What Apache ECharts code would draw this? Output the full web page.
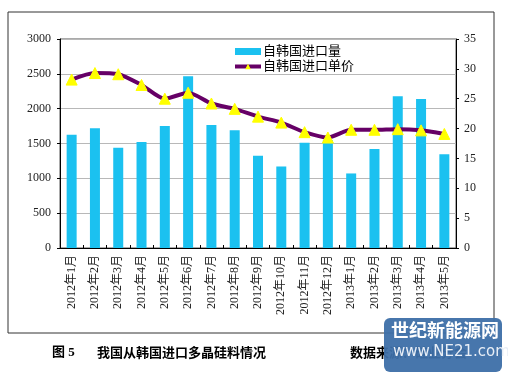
<!DOCTYPE html>
<html><head><meta charset="utf-8">
<script src="https://cdn.jsdelivr.net/npm/echarts@6/dist/echarts.min.js"></script>
<style>html,body{margin:0;padding:0;background:#fff}#c{width:508px;height:372px}</style>
</head><body><div id="c"></div>
<script>
const categories = ['2012年1月','2012年2月','2012年3月','2012年4月','2012年5月','2012年6月','2012年7月','2012年8月','2012年9月','2012年10月','2012年11月','2012年12月','2013年1月','2013年2月','2013年3月','2013年4月','2013年5月'];
const importVolume = [1625, 1720, 1440, 1520, 1750, 2465, 1765, 1690, 1325, 1170, 1510, 1550, 1070, 1420, 2180, 2140, 1345];
const importPrice = [28.2, 29.3, 29.1, 27.3, 25.0, 26.0, 24.2, 23.3, 22.0, 21.0, 19.4, 18.5, 19.8, 19.8, 19.9, 19.7, 19.1];
const leftTicks = [0, 3000, 500];
const rightTicks = [0, 35, 5];
const seriesNames = ['自韩国进口量', '自韩国进口单价'];
const captionLeft = '图 5';
const captionTitle = '我国从韩国进口多晶硅料情况';
const captionSource = '数据来源：硅业分会';

const serif = '"Liberation Serif","Noto Sans CJK SC",serif';
const chart = echarts.init(document.getElementById('c'));
chart.setOption({
  animation: false,
  backgroundColor: '#fff',
  grid: { left: 60, top: 39, right: 52, bottom: 124, show: true, borderColor: '#555', borderWidth: 1 },
  legend: {
    orient: 'vertical', left: 228, top: 40, itemGap: 2, itemWidth: 26, itemHeight: 7,
    textStyle: { fontFamily: serif, fontSize: 13, color: '#000', padding: [0,0,0,-3] },
    data: [
      { name: seriesNames[0], icon: 'rect', itemStyle: { color: '#1BC1F0' } },
      { name: seriesNames[1], lineStyle: { width: 4, color: '#660066' } }
    ]
  },
  xAxis: {
    type: 'category', data: categories, boundaryGap: true,
    axisLine: { lineStyle: { color: '#000', width: 1 } },
    axisTick: { show: true, inside: true, length: 3, lineStyle: { color: '#000' } },
    axisLabel: { rotate: 90, fontFamily: serif, fontSize: 12, color: '#222', margin: 7, interval: 0 }
  },
  yAxis: [
    { type: 'value', min: leftTicks[0], max: leftTicks[1], interval: leftTicks[2],
      axisLine: { show: true, lineStyle: { color: '#000' } },
      axisTick: { show: true, length: 3, lineStyle: { color: '#000' } },
      splitLine: { lineStyle: { color: '#b8b8b8', width: 1 } },
      axisLabel: { fontFamily: serif, fontSize: 12, color: '#222', margin: 9, formatter: v => String(v) } },
    { type: 'value', min: rightTicks[0], max: rightTicks[1], interval: rightTicks[2],
      axisLine: { show: true, lineStyle: { color: '#000' } },
      axisTick: { show: true, length: 3, lineStyle: { color: '#000' } },
      splitLine: { show: false },
      axisLabel: { fontFamily: serif, fontSize: 12, color: '#222', margin: 8, formatter: v => String(v) } }
  ],
  series: [
    { name: seriesNames[0], type: 'bar', data: importVolume, barWidth: 10, yAxisIndex: 0,
      itemStyle: { color: '#1BC1F0' } },
    { name: seriesNames[1], type: 'line', data: importPrice, yAxisIndex: 1, smooth: 0.25,
      lineStyle: { color: '#660066', width: 4 }, itemStyle: { color: '#FFFF00', borderColor: '#FFFF00' },
      symbol: 'triangle', symbolSize: 11, z: 5 }
  ],
  graphic: [
    { type: 'rect', shape: { x: 8, y: 12, width: 486, height: 321 }, style: { fill: 'none', stroke: '#333', lineWidth: 1 }, z: -1 },
    { type: 'text', left: 52, top: 346, style: { text: captionLeft, font: 'bold 13px "Liberation Serif","Noto Sans CJK SC",serif', fill: '#000' } },
    { type: 'text', left: 97, top: 346, style: { text: captionTitle, font: 'bold 13px "Noto Sans CJK SC",sans-serif', fill: '#000' } },
    { type: 'text', left: 350, top: 346, style: { text: captionSource, font: 'bold 13px "Noto Sans CJK SC",sans-serif', fill: '#000' } },
    { type: 'rect', shape: { x: 384, y: 318, width: 118, height: 54, r: 6 }, style: { fill: '#3d6fa8', opacity: 0.95 }, z: 100 },
    { type: 'text', left: 391, top: 321, z: 101, style: { text: '世纪新能源网', font: 'bold 18px "Noto Sans CJK SC",sans-serif', fill: '#fff' } },
    { type: 'text', left: 393, top: 345, z: 101, style: { text: 'www.NE21.com', font: '15px "DejaVu Sans",sans-serif', fill: '#e8eef6' } }
  ]
});
</script></body></html>
